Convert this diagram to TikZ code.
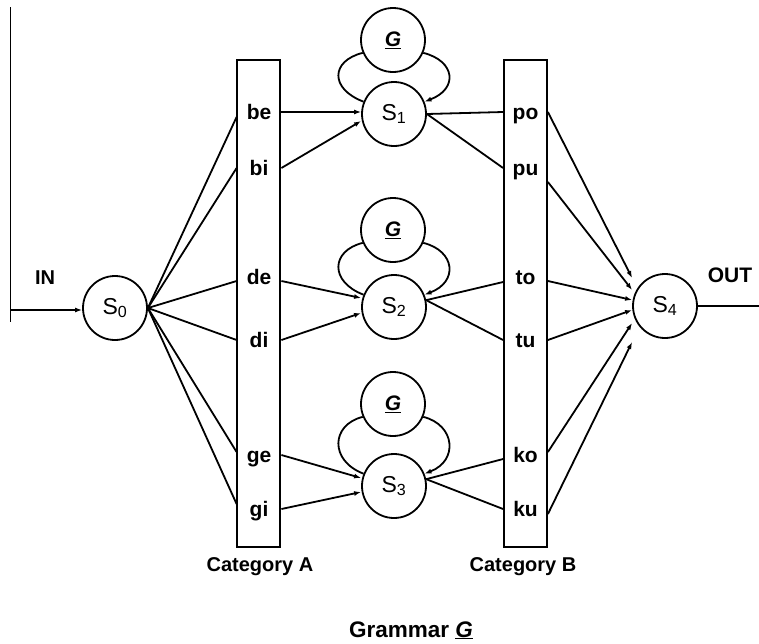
\documentclass[tikz,border=0pt]{standalone}
\usepackage{fontspec}
\setmainfont{Liberation Sans}
\usetikzlibrary{arrows.meta}
\begin{document}
\begin{tikzpicture}[x=1pt,y=-1pt,line width=1.8pt,
  state/.style={circle,draw,minimum size=64pt,inner sep=0pt,font=\fontsize{23}{23}\selectfont},
  gnode/.style={circle,draw,minimum size=64pt,inner sep=0pt,font=\fontsize{21}{21}\selectfont\bfseries\itshape},
  catbox/.style={draw,minimum width=43pt,minimum height=487pt,inner sep=0pt},
  cell/.style={minimum width=43pt,inner sep=0pt,text height=14pt,text depth=0pt,font=\fontsize{21}{21}\selectfont\bfseries},
  lbl/.style={inner sep=0pt,anchor=base,font=\fontsize{20}{20}\selectfont\bfseries},
  arr/.style={-{Latex[length=7pt,width=5pt]}},
]
\useasboundingbox (0,0) rectangle (759,643);

% category boxes
\node[catbox] (catA) at (258.5,303.5) {};
\node[catbox] (catB) at (525.5,303.5) {};

% cells
\node[cell] (be) at (259,112) {be};
\node[cell] (bi) at (259,168) {bi};
\node[cell] (de) at (259,277) {de};
\node[cell] (di) at (259,340) {di};
\node[cell] (ge) at (259,455) {ge};
\node[cell] (gi) at (259,509) {gi};
\node[cell] (po) at (525.5,112) {po};
\node[cell] (pu) at (525.5,168) {pu};
\node[cell] (to) at (525.5,277) {to};
\node[cell] (tu) at (525.5,340) {tu};
\node[cell] (ko) at (525.5,455) {ko};
\node[cell] (ku) at (525.5,509) {ku};

% states
\node[state] (S0) at (115,308) {S\textsubscript{0}};
\node[state] (S1) at (394,114) {S\textsubscript{1}};
\node[state] (S2) at (394,307) {S\textsubscript{2}};
\node[state] (S3) at (394,486) {S\textsubscript{3}};
\node[state] (S4) at (665,306) {S\textsubscript{4}};
\node[gnode] (G1) at (393,40) {\underline{G}};
\node[gnode] (G2) at (393,230) {\underline{G}};
\node[gnode] (G3) at (393,404) {\underline{G}};

% labels
\node[lbl,font=\fontsize{20}{20}\selectfont\bfseries] (inlbl) at (45,284) {IN};
\node[lbl,font=\fontsize{21}{21}\selectfont\bfseries] (outlbl) at (730,282) {OUT};
\node[lbl] (catAlbl) at (260,571) {Category A};
\node[lbl] (catBlbl) at (523,571) {Category B};
\node[lbl,font=\fontsize{22.5}{22.5}\selectfont\bfseries] (gram) at (411,637) {Grammar \underline{\textit{G}}};

% input / output
\coordinate (vtop) at (10,7);
\coordinate (vbot) at (10,322);
\coordinate (inpt) at (10,310);
\coordinate (outpt) at (759,306);
\draw[line width=0.9pt] (vtop) -- (vbot);
\draw[arr] (inpt) -- (inpt -| S0.west);
\draw (S4.east) -- (outpt);

% S0 to category A
\draw (S0.east) -- ([yshift=-5pt]be.west);
\draw (S0.east) -- (bi.west);
\draw (S0.east) -- ([yshift=-4pt]de.west);
\draw (S0.east) -- (di.west);
\draw (S0.east) -- ([yshift=3pt]ge.west);
\draw (S0.east) -- ([yshift=5pt]gi.west);

% category A to states
\draw[arr] (be.east) -- ([yshift=2pt]S1.west);
\draw[arr] (bi.east) -- ([yshift=-7pt]S1.west);
\draw[arr] ([yshift=-4pt]de.east) -- ([yshift=9pt]S2.west);
\draw[arr] (di.east) -- ([yshift=-6pt]S2.west);
\draw[arr] (ge.east) -- ([yshift=8pt]S3.west);
\draw[arr] (gi.east) -- ([yshift=-6pt]S3.west);

% states to category B
\draw (S1.east) -- (po.west);
\draw (S1.east) -- (pu.west);
\draw (S2.12) -- ([yshift=-5pt]to.west);
\draw (S2.12) -- (tu.west);
\draw (S3.12) -- ([yshift=-4pt]ko.west);
\draw (S3.12) -- (ku.west);

% category B to S4
\draw[arr] (po.east) -- ([yshift=28pt]S4.west);
\draw[arr] ([yshift=-14pt]pu.east) -- ([yshift=16pt]S4.west);
\draw[arr] ([yshift=-4pt]to.east) -- ([yshift=6pt]S4.west);
\draw[arr] (tu.east) -- ([yshift=-4pt]S4.west);
\draw[arr] ([yshift=3pt]ko.east) -- ([yshift=-17pt]S4.west);
\draw[arr] ([yshift=-5pt]ku.east) -- ([yshift=-36pt]S4.west);

% grammar loops
\foreach \g/\s in {G1/S1,G2/S2,G3/S3}{
  \draw (\g.203) .. controls +(-32,8) and +(-34,-13) .. (\s.158);
  \draw[arr] (\g.-23) .. controls +(32,8) and +(34,-13) .. (\s.22);
}
\end{tikzpicture}
\end{document}
